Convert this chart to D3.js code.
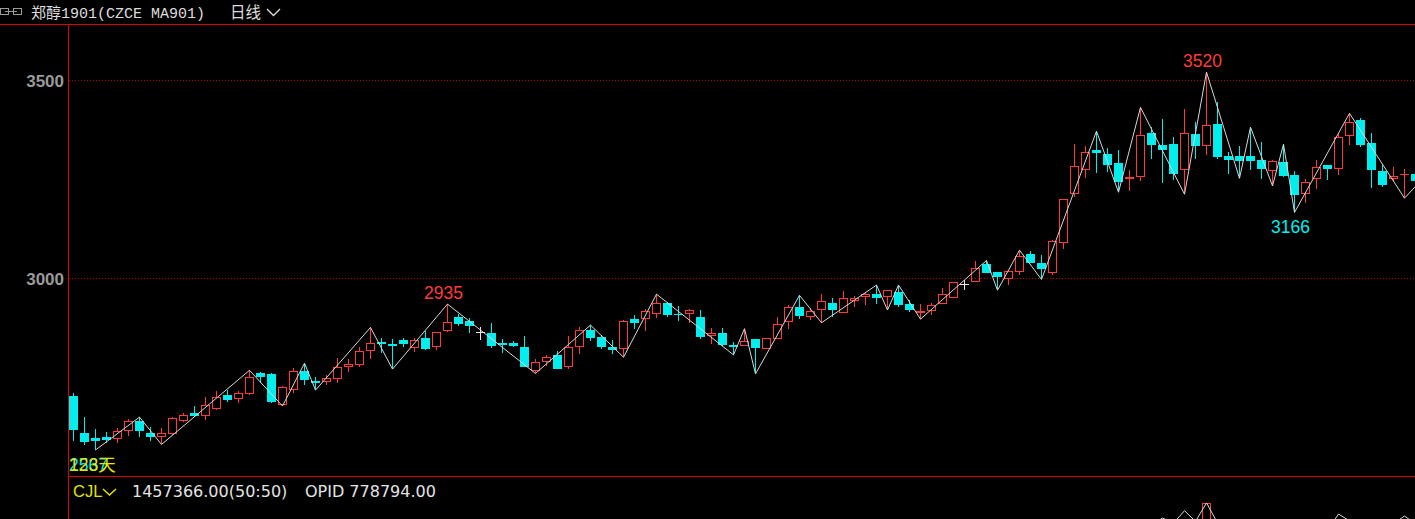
<!DOCTYPE html>
<html><head><meta charset="utf-8">
<script src="https://cdn.jsdelivr.net/npm/d3@7"></script>
<style>html,body{margin:0;padding:0;background:#000;overflow:hidden}svg{display:block}</style>
</head><body><svg id="c" width="1415" height="519"></svg>
<script>
const opens  = [2702,2610,2598,2600,2596,2616,2640,2610,2601,2608,2641,2660,2654,2671,2706,2696,2708,2761,2759,2680,2718,2766,2741,2739,2745,2777,2781,2817,2840,2834,2844,2825,2849,2826,2868,2902,2892,2864,2862,2838,2837,2827,2767,2789,2807,2776,2826,2870,2852,2827,2822,2897,2897,2909,2938,2911,2909,2902,2854,2862,2832,2830,2847,2822,2848,2891,2928,2903,2919,2938,2913,2944,2952,2960,2952,2966,2935,2913,2917,2934,2950,2985,2991,3036,3016,2999,3017,3061,3038,3014,3088,3213,3274,3324,3313,3291,3250,3256,3366,3336,3339,3274,3364,3334,3389,3308,3308,3308,3298,3271,3294,3260,3213,3250,3286,3275,3358,3398,3341,3270,3250,3261,3263];
const highs  = [2712,2650,2620,2612,2622,2645,2650,2624,2622,2651,2660,2678,2701,2716,2718,2717,2768,2764,2760,2728,2775,2786,2752,2755,2798,2796,2826,2876,2849,2846,2849,2849,2868,2865,2935,2910,2901,2878,2888,2846,2842,2854,2796,2806,2817,2854,2878,2882,2857,2844,2895,2908,2922,2960,2940,2930,2923,2919,2874,2875,2839,2873,2847,2849,2902,2933,2957,2924,2960,2950,2968,2956,2962,2983,2970,2983,2945,2936,2937,2975,2990,2996,3043,3045,3016,3018,3071,3069,3059,3097,3200,3339,3334,3371,3328,3324,3273,3431,3382,3402,3357,3427,3394,3520,3445,3318,3334,3381,3344,3298,3338,3270,3250,3298,3286,3367,3416,3403,3366,3285,3280,3275,3273];
const lows   = [2590,2580,2567,2584,2584,2603,2601,2590,2581,2605,2638,2650,2643,2668,2688,2686,2705,2735,2686,2678,2712,2731,2718,2731,2737,2765,2777,2796,2811,2771,2828,2815,2819,2819,2865,2880,2863,2844,2825,2811,2827,2776,2760,2779,2772,2772,2810,2842,2821,2810,2801,2872,2868,2899,2903,2893,2888,2848,2834,2829,2807,2830,2759,2822,2848,2872,2898,2895,2888,2903,2913,2928,2933,2935,2920,2928,2916,2897,2908,2934,2950,2970,2991,3014,2970,2983,3008,3039,2997,3008,3075,3206,3254,3266,3269,3217,3221,3246,3301,3241,3248,3212,3301,3311,3300,3264,3252,3273,3250,3233,3255,3166,3189,3226,3248,3261,3336,3332,3228,3231,3245,3202,3232];
const closes = [2617,2586,2591,2592,2615,2640,2616,2601,2609,2647,2655,2653,2680,2700,2693,2712,2751,2752,2689,2726,2766,2744,2737,2748,2776,2783,2817,2836,2834,2830,2835,2844,2822,2864,2889,2884,2880,2864,2830,2833,2830,2777,2789,2801,2772,2827,2869,2850,2828,2820,2892,2888,2917,2938,2908,2907,2919,2853,2862,2833,2828,2842,2825,2849,2886,2927,2906,2917,2942,2921,2950,2950,2960,2951,2970,2933,2920,2917,2932,2960,2990,2985,3027,3014,3004,3018,3056,3039,3023,3093,3200,3282,3318,3317,3286,3244,3255,3361,3336,3324,3263,3366,3334,3386,3307,3299,3296,3296,3276,3297,3259,3211,3242,3280,3275,3356,3393,3337,3274,3236,3257,3262,3246];

// zigzag pivots: candle index and whether it uses the high or the low
const zigIdx  = [2,6,8,16,19,21,22,27,29,34,42,47,50,53,60,61,62,66,68,73,74,75,77,83,84,86,88,93,95,97,101,103,106,107,109,110,111,116,121,122];
const zigType = ['L','H','L','H','L','H','L','H','L','H','L','H','L','H','L','H','L','H','L','H','L','H','L','H','L','H','L','H','L','H','L','H','L','H','L','H','L','H','L','L'];

const yTicks = [3000, 3500];
const peakLabels = [{i:34, t:'H'}, {i:103, t:'H'}, {i:111, t:'L'}, {i:2, t:'L'}];
const dayCountText = '123天';

const volBarIdx = [103];
const volBarVal = [2400000];
const volZigIdx = [98,99,100,101,102,103,104,114,115,116,120,121,122];
const volZigVal = [1950000,2090000,1985000,2240000,2020000,2400000,1990000,1830000,2172000,2030000,1970000,2131000,1970000];

const titleText = '郑醇1901(CZCE MA901)';
const periodText = '日线';
const volName = 'CJL';
const volValueText = '1457366.00(50:50)';
const opidText = 'OPID 778794.00';

const W = 1415, H = 519;
const RED = '#ff3a3a', CYAN = '#00eeee', LINE_RED = '#e00000', GRID_RED = '#b00000';
const svg = d3.select('#c');
svg.append('rect').attr('width', W).attr('height', H).attr('fill', '#000');

const n = opens.length;
const x = d3.scaleLinear().domain([0, n - 1]).range([73.5, 73.5 + 11 * (n - 1)]);
const y = d3.scaleLinear().domain([3000, 3500]).range([278.3, 80]);
const yVol = d3.scaleLinear().domain([0, 2500000]).range([620, 498]);

// frame
svg.append('line').attr('x1', 0).attr('x2', W).attr('y1', 24.5).attr('y2', 24.5).attr('stroke', LINE_RED);
svg.append('line').attr('x1', 68.5).attr('x2', 68.5).attr('y1', 25).attr('y2', H).attr('stroke', LINE_RED);
svg.append('line').attr('x1', 68).attr('x2', W).attr('y1', 476.5).attr('y2', 476.5).attr('stroke', LINE_RED);

// grid + y axis labels
const yAxis = d3.axisLeft(y).tickValues(yTicks).tickFormat(d3.format('d')).tickSize(0).tickPadding(0);
const gAxis = svg.append('g').attr('transform', 'translate(64,0)').call(yAxis);
gAxis.select('.domain').remove();
gAxis.selectAll('text').attr('fill', '#9a9a9a').attr('font-family', 'Liberation Sans, Arial, sans-serif')
  .attr('font-size', 17).attr('font-weight', 'bold').attr('dy', '0.36em');
svg.append('g').selectAll('line').data(yTicks).join('line')
  .attr('x1', 69).attr('x2', W)
  .attr('y1', d => Math.round(y(d)) + 0.5).attr('y2', d => Math.round(y(d)) + 0.5)
  .attr('stroke', GRID_RED).attr('stroke-dasharray', '1,2');

// candles
const candles = d3.range(n).map(i => ({i, o: opens[i], h: highs[i], l: lows[i], c: closes[i]}));
const gC = svg.append('g').attr('shape-rendering', 'crispEdges');
candles.forEach(d => {
  const left = Math.round(x(d.i) - 4.5);
  const cx = left + 4.5;
  const yTop = Math.round(y(Math.max(d.o, d.c)));
  const yBot = Math.round(y(Math.min(d.o, d.c)));
  const yH = Math.round(y(d.h)), yL = Math.round(y(d.l));
  if (d.c > d.o) {
    if (yTop > yH) gC.append('line').attr('x1', cx).attr('x2', cx).attr('y1', yH).attr('y2', yTop).attr('stroke', RED);
    if (yL > yBot) gC.append('line').attr('x1', cx).attr('x2', cx).attr('y1', yBot).attr('y2', yL).attr('stroke', RED);
    if (yBot - yTop >= 2) {
      gC.append('rect').attr('x', left + 0.5).attr('y', yTop + 0.5).attr('width', 8).attr('height', yBot - yTop - 1)
        .attr('fill', 'none').attr('stroke', RED);
    } else {
      gC.append('rect').attr('x', left).attr('y', yTop).attr('width', 9).attr('height', Math.max(yBot - yTop, 1)).attr('fill', RED);
    }
  } else if (d.c < d.o) {
    gC.append('line').attr('x1', cx).attr('x2', cx).attr('y1', yH).attr('y2', yL).attr('stroke', CYAN);
    gC.append('rect').attr('x', left).attr('y', yTop).attr('width', 9).attr('height', Math.max(yBot - yTop, 1)).attr('fill', CYAN);
  } else {
    gC.append('line').attr('x1', cx).attr('x2', cx).attr('y1', yH).attr('y2', yL).attr('stroke', '#e8e8e8');
    gC.append('line').attr('x1', left).attr('x2', left + 9).attr('y1', yTop + 0.5).attr('y2', yTop + 0.5).attr('stroke', '#e8e8e8');
  }
});

// zigzag
const zigPts = zigIdx.map((i, k) => [x(i), y(zigType[k] === 'H' ? highs[i] : lows[i])]);
svg.append('path').attr('d', d3.line()(zigPts)).attr('fill', 'none').attr('stroke', '#d8d8d8').attr('stroke-width', 1);

// peak / trough labels
peakLabels.forEach(p => {
  const v = p.t === 'H' ? highs[p.i] : lows[p.i];
  const yy = y(v);
  const t = svg.append('text').text(v)
    .attr('font-family', 'Liberation Sans, Arial, sans-serif').attr('font-size', 17.5)
    .attr('fill', p.t === 'H' ? RED : CYAN)
    .attr('y', p.t === 'H' ? yy - 5 : yy + 20.5);
  if (p.i < 5) t.attr('x', 69).attr('text-anchor', 'start');
  else t.attr('x', x(p.i) - 4).attr('text-anchor', 'middle');
});
svg.append('text').text(dayCountText).attr('x', 69).attr('y', y(lows[2]) + 20.5)
  .attr('font-family', 'Liberation Sans, Arial, Noto Sans CJK SC, sans-serif').attr('font-size', 17.5).attr('fill', '#e6e600');

// header
const ic = svg.append('g').attr('fill', 'none').attr('stroke', '#9a9a9a').attr('shape-rendering', 'crispEdges');
ic.append('rect').attr('x', 0.5).attr('y', 8.5).attr('width', 8).attr('height', 6);
ic.append('rect').attr('x', 13.5).attr('y', 8.5).attr('width', 8).attr('height', 6);
ic.append('line').attr('x1', 5).attr('x2', 17).attr('y1', 11.5).attr('y2', 11.5);
svg.append('text').text(titleText).attr('x', 31).attr('y', 17.5)
  .attr('font-family', 'Liberation Mono, Noto Sans CJK SC, monospace').attr('font-size', 15).attr('fill', '#dcdcdc');
svg.append('text').text(periodText).attr('x', 230).attr('y', 18)
  .attr('font-family', 'Noto Sans CJK SC, sans-serif').attr('font-size', 15.5).attr('fill', '#dcdcdc');
svg.append('polyline').attr('points', '267,9 273.5,15.5 280,9').attr('fill', 'none').attr('stroke', '#dcdcdc').attr('stroke-width', 1.4);

// volume panel header
const vf = 'DejaVu Sans, Verdana, sans-serif';
svg.append('text').text(volName).attr('x', 73).attr('y', 497).attr('font-family', 'Liberation Sans, Arial, sans-serif')
  .attr('font-size', 16.5).attr('fill', '#e6e600');
svg.append('polyline').attr('points', '103,489 109.5,495 116,489').attr('fill', 'none').attr('stroke', '#e6e600').attr('stroke-width', 1.4);
svg.append('text').text(volValueText).attr('x', 132).attr('y', 497).attr('font-family', vf).attr('font-size', 16).attr('fill', '#e4e4e4');
svg.append('text').text(opidText).attr('x', 305).attr('y', 497).attr('font-family', vf).attr('font-size', 16).attr('fill', '#e4e4e4');

// volume marks (clipped to panel)
svg.append('clipPath').attr('id', 'vclip').append('rect').attr('x', 69).attr('y', 478).attr('width', W - 69).attr('height', H - 478);
const gV = svg.append('g').attr('clip-path', 'url(#vclip)');
gV.selectAll('rect').data(volBarIdx).join('rect')
  .attr('x', i => Math.round(x(i) - 4.5) + 0.5).attr('y', (i, k) => Math.round(yVol(volBarVal[k])) + 0.5)
  .attr('width', 8).attr('height', (i, k) => yVol(0) - yVol(volBarVal[k]))
  .attr('fill', 'none').attr('stroke', RED).attr('shape-rendering', 'crispEdges');
gV.append('path').attr('d', d3.line()(volZigIdx.map((i, k) => [x(i), yVol(volZigVal[k])])))
  .attr('fill', 'none').attr('stroke', '#d8d8d8');
</script></body></html>
